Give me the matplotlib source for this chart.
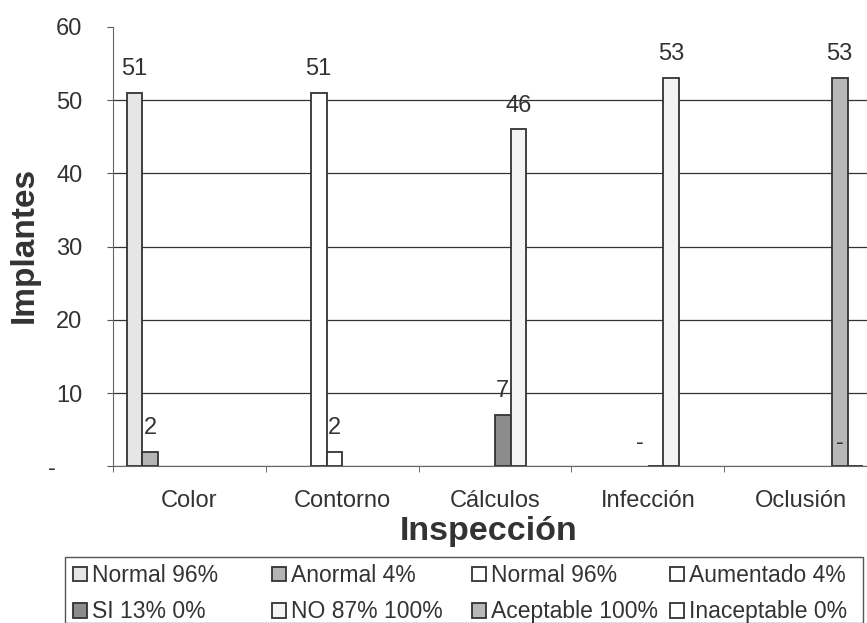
import numpy as np
import matplotlib.pyplot as plt
from matplotlib.patches import Rectangle

plt.rcParams['font.family'] = ['Liberation Sans', 'DejaVu Sans']

# Data
categorias = ['Color', 'Contorno', 'Cálculos', 'Infección', 'Oclusión']
series = ['Normal 96%', 'Anormal 4%', 'Normal 96%', 'Aumentado 4%',
          'SI 13% 0%', 'NO 87% 100%', 'Aceptable 100%', 'Inaceptable 0%']
# value of each series in each category (None = no bar)
valores = [
    [51, None, None, None, None],     # Normal (color)
    [2, None, None, None, None],      # Anormal
    [None, 51, None, None, None],     # Normal (contorno)
    [None, 2, None, None, None],      # Aumentado
    [None, None, 7, 0, None],         # SI
    [None, None, 46, 53, None],       # NO
    [None, None, None, None, 53],     # Aceptable
    [None, None, None, None, 0],      # Inaceptable
]
colores = ['#e6e6e6', '#b4b4b4', '#ffffff', '#ffffff',
           '#8c8c8c', '#f4f4f4', '#b8b8b8', '#ffffff']

fig = plt.figure(figsize=(8.67, 6.23), dpi=100)
ax = fig.add_axes([0.1303, 0.2515, 0.8812, 0.7055])

n = len(series)
ancho = 0.82 / n
x = np.arange(len(categorias))
handles = []
for i, (nombre, vals) in enumerate(zip(series, valores)):
    pos = x - 0.41 + ancho * (i + 0.5)
    xs = [p for p, v in zip(pos, vals) if v is not None]
    ys = [v for v in vals if v is not None]
    b = ax.bar(xs, ys, width=ancho, color=colores[i], edgecolor='#333333',
               linewidth=1.3, label=nombre, zorder=3)
    handles.append(b)
    for xi, yi in zip(xs, ys):
        if yi > 0:
            txt, dx = str(yi), 0
        else:
            txt, dx = '-', -11
        ax.annotate(txt, (xi, yi), xytext=(dx, 17), textcoords='offset points',
                    ha='center', va='center', fontsize=17, color='#333333')

ax.set_xlim(-0.5, len(categorias) - 0.5)
ax.set_ylim(0, 60)
ax.set_yticks(range(0, 61, 10))
ax.set_yticklabels(['-    '] + [str(v) for v in range(10, 61, 10)])
ax.set_xticks(x)
ax.set_xticklabels(categorias)
ax.set_xticks(np.arange(len(categorias) + 1) - 0.5, minor=True)
ax.tick_params(axis='x', which='major', length=0, pad=17, labelsize=17,
               labelcolor='#333333')
ax.tick_params(axis='x', which='minor', length=4, color='#555555')
ax.tick_params(axis='y', length=4, pad=18, labelsize=17, color='#555555',
               labelcolor='#333333')

ax.yaxis.grid(True, color='#333333', linewidth=0.9, zorder=0)
ax.get_ygridlines()[-1].set_visible(False)
for s in ['top', 'right']:
    ax.spines[s].set_visible(False)
for s in ['left', 'bottom']:
    ax.spines[s].set_color('#666666')

fig.text(24 / 867, 1 - 245 / 623, 'Implantes', rotation=90, ha='center',
         va='center', fontsize=24, fontweight='bold', color='#333333')
fig.text(489 / 867, 1 - 540 / 623, 'Inspección', ha='center', va='baseline',
         fontsize=24.5, fontweight='bold', color='#333333')

# legend: frame plus four equal-width columns of two entries each
fig.add_artist(Rectangle((65 / 867, 0.0), 798 / 867, 1 - 557 / 623,
                         transform=fig.transFigure, fill=False,
                         edgecolor='#555555', linewidth=1.0))
col_x = [73, 272, 472, 670]
for c, cx in enumerate(col_x):
    idx = [c, c + 4]
    leg = fig.legend([handles[k] for k in idx], [series[k] for k in idx],
                     loc='upper left', bbox_to_anchor=(cx / 867, 1 - 564 / 623),
                     fontsize=16.5, frameon=False, handlelength=0.62,
                     handleheight=0.62, handletextpad=0.22, borderpad=0,
                     labelspacing=0.58, borderaxespad=0)
    for t in leg.get_texts():
        t.set_color('#333333')

fig.savefig('out.png', dpi=100)
